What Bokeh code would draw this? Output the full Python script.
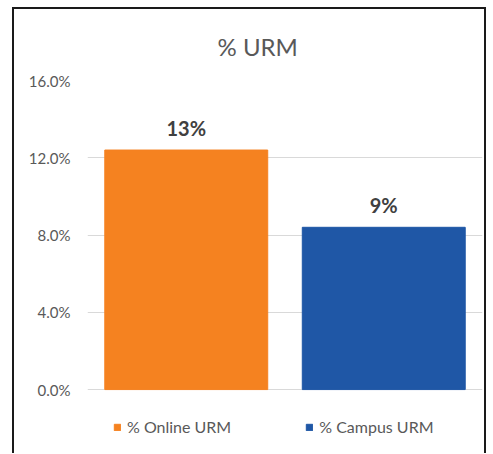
from bokeh.plotting import figure
from bokeh.layouts import column
from bokeh.models import FactorRange, NumeralTickFormatter, Legend, LegendItem, ColumnDataSource, FixedTicker
from bokeh.core.properties import value
from bokeh.embed import file_html
from bokeh.resources import INLINE

categories = ["% Online URM", "% Campus URM"]
values = [0.124, 0.084]
bar_labels = ["13%", "9%"]
colors = ["#F58220", "#1F57A6"]
y_ticks = [0.0, 0.04, 0.08, 0.12, 0.16]

FONT = "Lato"
GREY = "#595959"

src = ColumnDataSource(dict(cat=categories, val=values, lab=bar_labels, col=colors))

p = figure(width=470, height=444, x_range=FactorRange(*categories), y_range=(-0.0331, 0.16),
           output_backend="svg", toolbar_location=None,
           min_border_left=73, min_border_right=2, min_border_top=71, min_border_bottom=0)
p.outline_line_color = None
p.background_fill_color = "white"

bars = p.vbar(x="cat", top="val", width=0.825, color="col", source=src)
p.text(x="cat", y="val", text="lab", source=src, text_align="center", text_baseline="bottom",
       y_offset=-10, text_font=value(FONT), text_font_style="bold", text_font_size="20px",
       text_color="#404040")

p.title.text = "% URM"
p.title.align = "left"
p.title.offset = 130
p.title.standoff = 40
p.title.text_font = FONT
p.title.text_font_style = "normal"
p.title.text_font_size = "24px"
p.title.text_color = GREY

p.xaxis.visible = False
p.xgrid.visible = False
p.yaxis.ticker = FixedTicker(ticks=y_ticks)
p.yaxis.formatter = NumeralTickFormatter(format="0.0%")
p.yaxis.axis_line_color = None
p.yaxis.major_tick_line_color = None
p.yaxis.minor_tick_line_color = None
p.yaxis.major_tick_out = 0
p.yaxis.major_tick_in = 0
p.yaxis.major_label_text_font = FONT
p.yaxis.major_label_text_font_size = "15px"
p.yaxis.major_label_text_color = GREY
p.yaxis.major_label_standoff = 17
p.ygrid.ticker = FixedTicker(ticks=y_ticks)
p.ygrid.grid_line_color = "#d9d9d9"
p.ygrid.grid_line_width = 1

items = [LegendItem(label=c, renderers=[bars], index=i) for i, c in enumerate(categories)]
legend = Legend(items=items, orientation="horizontal", location=(26, 17),
                glyph_width=8, glyph_height=8, label_standoff=6, spacing=74,
                padding=0, margin=0, border_line_color=None, background_fill_alpha=0,
                label_text_font=FONT, label_text_font_size="16px", label_text_color=GREY)
p.add_layout(legend, "center")

layout = column(p, width=474, height=446)
layout.styles = {"border-left": "2px solid #1a1a1a", "border-top": "2px solid #1a1a1a",
                 "border-right": "2px solid #1a1a1a", "margin-left": "12px", "margin-top": "7px"}

open("out.html", "w").write(file_html(layout, INLINE))
